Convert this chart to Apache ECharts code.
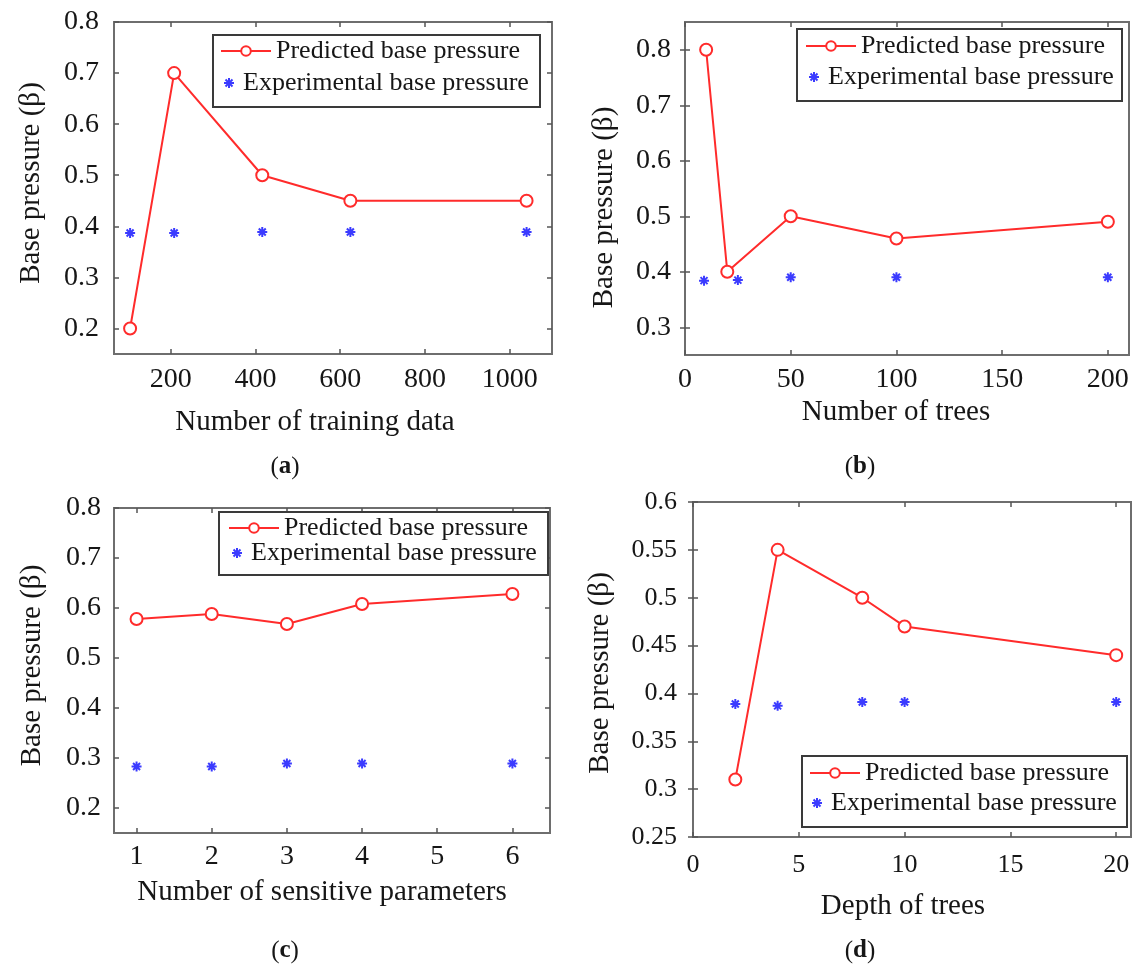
<!DOCTYPE html>
<html><head><meta charset="utf-8">
<script src="https://cdn.jsdelivr.net/npm/echarts@6/dist/echarts.min.js"></script>
<style>html,body{margin:0;padding:0;background:#fff}#c{width:1135px;height:967px}</style>
</head><body><div id="c"></div>
<script>
// ---------- data ----------
const predName = 'Predicted base pressure';
const expName = 'Experimental base pressure';
const yTitle = 'Base pressure (β)';

// (a)
const aXTitle = 'Number of training data';
const aXPred = [104, 208, 416, 624, 1040];
const aPred = [0.2, 0.7, 0.5, 0.45, 0.45];
const aXExp = [104, 208, 416, 624, 1040];
const aExp = [0.387, 0.387, 0.389, 0.389, 0.389];
const aXTicks = [200, 400, 600, 800, 1000];
const aYTicks = [0.2, 0.3, 0.4, 0.5, 0.6, 0.7, 0.8];

// (b)
const bXTitle = 'Number of trees';
const bXPred = [10, 20, 50, 100, 200];
const bPred = [0.8, 0.4, 0.5, 0.46, 0.49];
const bXExp = [9, 25, 50, 100, 200];
const bExp = [0.384, 0.385, 0.39, 0.39, 0.39];
const bXTicks = [0, 50, 100, 150, 200];
const bYTicks = [0.3, 0.4, 0.5, 0.6, 0.7, 0.8];

// (c)
const cXTitle = 'Number of sensitive parameters';
const cXPred = [1, 2, 3, 4, 6];
const cPred = [0.578, 0.588, 0.568, 0.608, 0.628];
const cXExp = [1, 2, 3, 4, 6];
const cExp = [0.283, 0.283, 0.289, 0.289, 0.289];
const cXTicks = [1, 2, 3, 4, 5, 6];
const cYTicks = [0.2, 0.3, 0.4, 0.5, 0.6, 0.7, 0.8];

// (d)
const dXTitle = 'Depth of trees';
const dXPred = [2, 4, 8, 10, 20];
const dPred = [0.31, 0.55, 0.5, 0.47, 0.44];
const dXExp = [2, 4, 8, 10, 20];
const dExp = [0.389, 0.387, 0.391, 0.391, 0.391];
const dXTicks = [0, 5, 10, 15, 20];
const dYTicks = [0.25, 0.3, 0.35, 0.4, 0.45, 0.5, 0.55, 0.6];

const subLabels = ['a', 'b', 'c', 'd'];

// ---------- style / layout ----------
const FONT = 'Liberation Serif';
const TXT = '#161616';
const RED = '#ff2b2b';
const BLUE = '#0a0aff';
const BOX = '#6e6e6e';
const ASTER = 'path://M-1,-5L1,-5L1,5L-1,5Z M-5,-1L5,-1L5,1L-5,1Z M-2.8,-4.2L4.2,2.8L2.8,4.2L-4.2,-2.8Z M2.8,-4.2L4.2,-2.8L-2.8,4.2L-4.2,2.8Z';

const panels = [
  { xPred: aXPred, pred: aPred, xExp: aXExp, exp: aExp, xTicks: aXTicks, yTicks: aYTicks, xTitle: aXTitle,
    xMin: 66, xMax: 1100, yMin: 0.15, yMax: 0.8,
    grid: { left: 114, top: 22, width: 438, height: 332 }, xLabelMargin: 12, yLabelMargin: 15, tickFont: 28,
    xNameGap: 54, xNamePad: [0, 36, 0, 0], yNameGap: 68, yNamePad: [0, 0, 0, 10],
    legBox: [213, 35, 327, 72], leg1: [220, 38], leg2: [224, 70], sub: [285, 467] },
  { xPred: bXPred, pred: bPred, xExp: bXExp, exp: bExp, xTicks: bXTicks, yTicks: bYTicks, xTitle: bXTitle,
    xMin: 0, xMax: 210, yMin: 0.25, yMax: 0.85,
    grid: { left: 685, top: 22, width: 444, height: 333 }, xLabelMargin: 11, yLabelMargin: 14, tickFont: 28,
    xNameGap: 43, xNamePad: [0, 22, 0, 0], yNameGap: 66, yNamePad: [0, 38, 0, 0],
    legBox: [797, 29, 325, 72], leg1: [805, 33], leg2: [809, 64], sub: [860, 467] },
  { xPred: cXPred, pred: cPred, xExp: cXExp, exp: cExp, xTicks: cXTicks, yTicks: cYTicks, xTitle: cXTitle,
    xMin: 0.7, xMax: 6.5, yMin: 0.15, yMax: 0.8,
    grid: { left: 114, top: 508, width: 436, height: 325 }, xLabelMargin: 10, yLabelMargin: 13, tickFont: 28,
    xNameGap: 45, xNamePad: [0, 20, 0, 0], yNameGap: 67, yNamePad: [0, 0, 0, 10],
    legBox: [219, 512, 329, 63], leg1: [228, 515], leg2: [232, 540], sub: [285, 951] },
  { xPred: dXPred, pred: dPred, xExp: dXExp, exp: dExp, xTicks: dXTicks, yTicks: dYTicks, xTitle: dXTitle,
    xMin: 0, xMax: 20.7, yMin: 0.25, yMax: 0.6,
    grid: { left: 693, top: 502, width: 438, height: 335 }, xLabelMargin: 15, yLabelMargin: 16, tickFont: 26,
    xNameGap: 55, xNamePad: [0, 18, 0, 0], yNameGap: 78, yNamePad: [0, 7, 0, 0],
    legBox: [802, 756, 325, 71], leg1: [809, 760], leg2: [812, 790], sub: [860, 951] }
];

const grids = [], xAxes = [], yAxes = [], series = [], legends = [], graphics = [];
const fmt = v => String(v);

panels.forEach((p, i) => {
  grids.push(Object.assign({ show: true, borderColor: BOX, borderWidth: 2, backgroundColor: '#fff', containLabel: false }, p.grid));
  const tick = { inside: true, length: 5, lineStyle: { color: '#555', width: 1.5 } };
  xAxes.push({
    type: 'value', gridIndex: i, position: 'bottom', min: p.xMin, max: p.xMax,
    axisLine: { show: false }, splitLine: { show: false },
    axisTick: Object.assign({ customValues: p.xTicks }, tick),
    axisLabel: { customValues: p.xTicks, formatter: fmt, margin: p.xLabelMargin, fontFamily: FONT, fontSize: p.tickFont, color: TXT },
    name: p.xTitle, nameLocation: 'middle', nameGap: p.xNameGap,
    nameTextStyle: { fontFamily: FONT, fontSize: 29, color: TXT, padding: p.xNamePad }
  });
  xAxes.push({
    type: 'value', gridIndex: i, position: 'top', min: p.xMin, max: p.xMax,
    axisLine: { show: false }, splitLine: { show: false },
    axisTick: Object.assign({ customValues: p.xTicks }, tick),
    axisLabel: { show: false, customValues: p.xTicks }
  });
  yAxes.push({
    type: 'value', gridIndex: i, position: 'left', min: p.yMin, max: p.yMax,
    axisLine: { show: false }, splitLine: { show: false },
    axisTick: Object.assign({ customValues: p.yTicks }, tick),
    axisLabel: { customValues: p.yTicks, formatter: fmt, margin: p.yLabelMargin, fontFamily: FONT, fontSize: p.tickFont, color: TXT },
    name: yTitle, nameLocation: 'middle', nameGap: p.yNameGap,
    nameTextStyle: { fontFamily: FONT, fontSize: 29, color: TXT, padding: p.yNamePad }
  });
  yAxes.push({
    type: 'value', gridIndex: i, position: 'right', min: p.yMin, max: p.yMax,
    axisLine: { show: false }, splitLine: { show: false },
    axisTick: Object.assign({ customValues: p.yTicks }, tick),
    axisLabel: { show: false, customValues: p.yTicks }
  });
  series.push({
    name: predName, type: 'line', xAxisIndex: 2 * i, yAxisIndex: 2 * i,
    data: p.xPred.map((x, k) => [x, p.pred[k]]),
    symbol: 'emptyCircle', symbolSize: 12,
    lineStyle: { color: RED, width: 2 },
    itemStyle: { color: RED, borderColor: RED, borderWidth: 2 },
    z: 3
  });
  series.push({
    name: expName, type: 'scatter', xAxisIndex: 2 * i, yAxisIndex: 2 * i,
    data: p.xExp.map((x, k) => [x, p.exp[k]]),
    symbol: ASTER, symbolSize: 10,
    itemStyle: { color: BLUE },
    z: 3
  });
  const legText = { fontFamily: FONT, fontSize: 26, color: TXT };
  legends.push({
    data: [predName], orient: 'vertical', left: p.leg1[0], top: p.leg1[1], padding: 0,
    itemWidth: 50, itemHeight: 12, selectedMode: false, textStyle: legText, z: 6
  });
  legends.push({
    data: [{ name: expName, icon: ASTER }], orient: 'vertical', left: p.leg2[0], top: p.leg2[1], padding: 0,
    itemWidth: 10, itemHeight: 10, selectedMode: false, textStyle: Object.assign({ padding: [0, 0, 0, 4] }, legText),
    itemStyle: { color: BLUE }, z: 6
  });
  graphics.push({
    type: 'rect', z: 5,
    shape: { x: p.legBox[0], y: p.legBox[1], width: p.legBox[2], height: p.legBox[3] },
    style: { fill: '#fff', stroke: '#3a3a3a', lineWidth: 2 }
  });
  graphics.push({
    type: 'text', x: p.sub[0], y: p.sub[1], z: 5,
    style: {
      text: '{n|(}{b|' + subLabels[i] + '}{n|)}', align: 'center', verticalAlign: 'middle',
      rich: {
        n: { fontFamily: FONT, fontSize: 25, fill: TXT },
        b: { fontFamily: FONT, fontSize: 25, fontWeight: 'bold', fill: TXT }
      }
    }
  });
});

const chart = echarts.init(document.getElementById('c'), null, { renderer: 'canvas' });
chart.setOption({
  animation: false,
  backgroundColor: '#fff',
  grid: grids,
  xAxis: xAxes,
  yAxis: yAxes,
  legend: legends,
  series: series,
  graphic: { elements: graphics }
});
</script>
</body></html>
